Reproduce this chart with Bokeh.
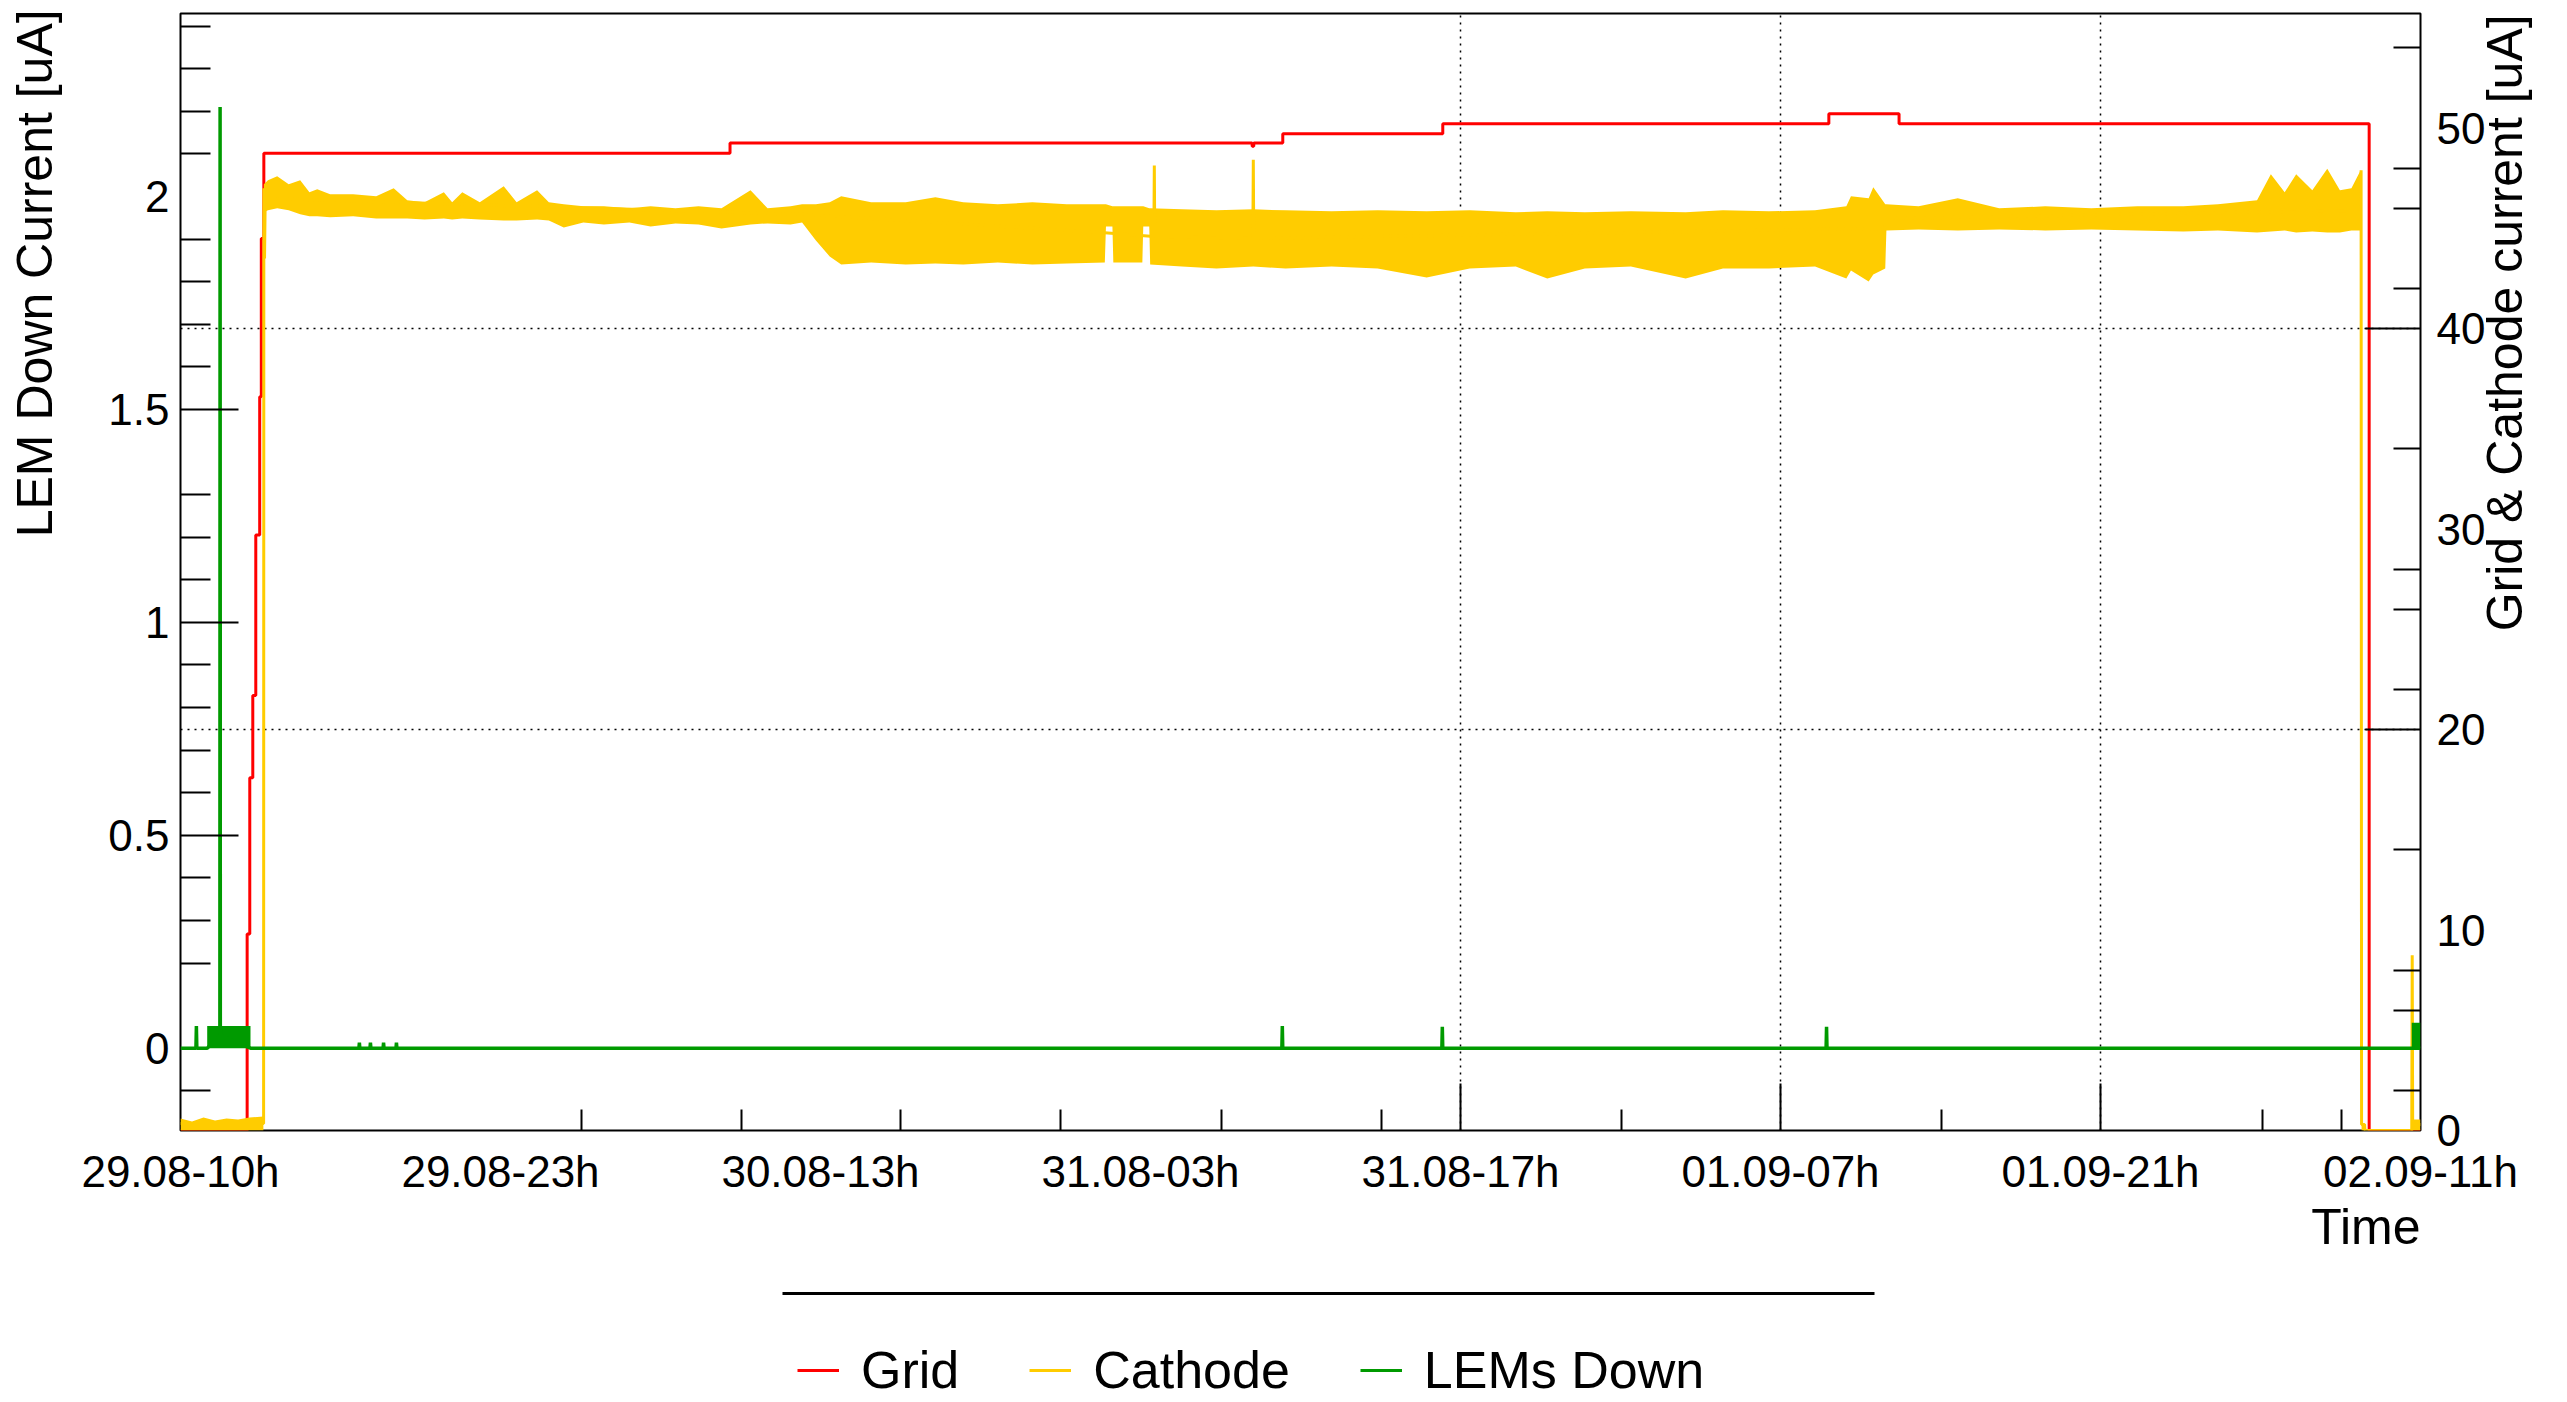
import math
from bokeh.plotting import figure
from bokeh.layouts import column
from bokeh.models import (LinearAxis, Range1d, FixedTicker, CustomJSTickFormatter,
                          NumeralTickFormatter, Legend, LegendItem, Title, Grid)
from bokeh.embed import file_html
from bokeh.resources import INLINE

FONT = "Liberation Sans"
NB = "\u00a0"

# ---------------- axes definitions (hours since 29.08 00:00) ----------------
x_tick_hours = [10.0, 23.9, 37.8, 51.7, 65.6, 79.5, 93.4, 107.3]
x_tick_labels = ["29.08-10h", "29.08-23h", "30.08-13h", "31.08-03h",
                 "31.08-17h", "01.09-07h", "01.09-21h", "02.09-11h"]
x_long_ticks = [65.6, 79.5, 93.4]
x_short_ticks = [27.40, 34.35, 41.29, 48.24, 55.22, 62.18, 72.59, 86.49, 100.42, 103.88]

left_labels = [0, 0.5, 1, 1.5, 2]
left_long_ticks = [0.5, 1.0, 1.5]
left_short_ticks = [-0.1, 0.2, 0.3, 0.4, 0.6, 0.7, 0.8, 0.9, 1.1, 1.2, 1.3,
                    1.6, 1.7, 1.8, 1.9, 2.1, 2.2, 2.3, 2.4]

right_labels = [0, 10, 20, 30, 40, 50]
right_long_ticks = [20, 40]
right_short_ticks = [2, 6, 8, 14, 22, 26, 28, 34, 42, 46, 48, 54]

grid_x_lines = [65.6, 79.5, 93.4]
grid_y_lines = [20, 40]

# ---------------- Grid current (right axis) ----------------
grid_t = [10.0, 12.895, 13.009, 13.14, 13.27, 13.44, 13.51, 13.62, 33.87,
          56.55, 56.62, 57.88, 64.83, 81.6, 84.65, 105.07, 107.3]
grid_v = [0.0, 9.8, 17.6, 21.7, 29.7, 36.6, 44.5, 48.75, 49.26,
          49.1, 49.26, 49.72, 50.22, 50.72, 50.22, 0.0, 0.0]

# ---------------- Cathode current (right axis) ----------------
# noisy band: lower / upper envelope
cath_band_t = [10.0, 10.5, 11.0, 11.5, 12.0, 12.5, 13.0, 13.6,
               13.62, 13.8, 14.2, 14.7, 15.2, 15.6, 15.94, 16.5, 17.5, 18.5, 19.26, 19.85,
               20.6, 21.44, 21.8, 22.24, 23.0, 24.04, 24.6, 25.49, 26.0, 26.65, 27.5, 28.39,
               29.5, 30.42, 31.5, 32.5, 33.5, 34.76, 35.5, 36.5, 37.0, 37.6, 38.2, 38.7,
               40.0, 41.5, 42.79, 44.0, 45.5, 47.0, 48.5, 50.15, 50.2, 50.48, 50.52, 51.78,
               51.82, 52.08, 52.12, 53.5, 55.0, 56.6, 58.0, 60.0, 62.0, 64.13, 66.0, 68.0,
               69.37, 71.0, 73.0, 75.38, 77.0, 79.0, 81.0, 82.36, 82.56, 83.33, 83.53, 84.05,
               84.1, 85.5, 87.2, 89.0, 91.0, 93.0, 95.0, 97.0, 98.5, 100.2, 100.8, 101.4,
               101.9, 102.6, 103.25, 103.8, 104.3, 104.7,
               104.74, 104.88, 104.9, 106.88, 106.9, 107.3]
cath_band_lo = [0, 0, 0, 0, 0, 0, 0, 0,
                45.8, 45.9, 46.0, 45.9, 45.7, 45.6, 45.6, 45.55, 45.6, 45.5, 45.5, 45.5,
                45.45, 45.5, 45.45, 45.5, 45.45, 45.4, 45.4, 45.45, 45.4, 45.05, 45.3, 45.2,
                45.3, 45.1, 45.25, 45.2, 45.0, 45.2, 45.25, 45.2, 45.3, 44.4, 43.6, 43.2,
                43.3, 43.2, 43.25, 43.2, 43.3, 43.2, 43.25, 43.3, 45.1, 45.1, 43.3, 43.3,
                45.1, 45.1, 43.2, 43.1, 43.0, 43.1, 43.0, 43.1, 43.0, 42.55, 43.0, 43.1,
                42.5, 43.0, 43.1, 42.5, 43.0, 43.0, 43.1, 42.5, 42.9, 42.35, 42.7, 43.0,
                44.9, 44.95, 44.9, 44.95, 44.9, 44.95, 44.9, 44.85, 44.9, 44.8, 44.85, 44.9,
                44.8, 44.85, 44.8, 44.8, 44.9, 44.9,
                0, 0, 0, 0, 0, 0]
cath_band_hi = [0.6, 0.45, 0.65, 0.5, 0.6, 0.55, 0.65, 0.7,
                47.2, 47.4, 47.6, 47.2, 47.4, 46.8, 46.95, 46.7, 46.7, 46.6, 47.0, 46.4,
                46.3, 46.8, 46.3, 46.8, 46.3, 47.1, 46.3, 46.9, 46.3, 46.2, 46.1, 46.1,
                46.0, 46.1, 46.0, 46.1, 46.0, 46.9, 46.0, 46.1, 46.2, 46.2, 46.3, 46.6,
                46.3, 46.3, 46.55, 46.3, 46.2, 46.3, 46.2, 46.2, 46.2, 46.1, 46.1, 46.1,
                46.1, 46.0, 46.0, 45.95, 45.9, 45.95, 45.9, 45.85, 45.9, 45.85, 45.9, 45.8,
                45.85, 45.8, 45.85, 45.8, 45.9, 45.85, 45.9, 46.1, 46.6, 46.5, 47.05, 46.2,
                46.2, 46.1, 46.5, 46.0, 46.1, 46.0, 46.1, 46.1, 46.2, 46.4, 47.7, 46.8,
                47.7, 46.9, 47.97, 46.9, 47.0, 47.9,
                0.3, 0.3, 0.0, 0.0, 0.55, 0.55]
# trace of the signal through the band (jumps and spikes)
cath_line_t = [10.0, 13.61, 13.62, 13.65, 13.68, 37.0, 50.0, 52.28, 52.30, 52.32,
               56.58, 56.60, 56.62, 84.0, 84.2, 104.70, 104.72, 104.74, 104.87, 104.89,
               106.92, 106.94, 106.96, 107.3]
cath_line_v = [0.35, 0.35, 47.0, 43.5, 46.5, 45.7, 44.8, 44.6, 48.14, 44.6,
               44.5, 48.43, 44.5, 45.0, 45.5, 45.9, 47.9, 0.3, 0.3, 0.0,
               0.0, 8.74, 0.3, 0.3]

# ---------------- LEMs Down current (left axis) ----------------
lem_t = [10.0, 10.67, 10.69, 10.71, 11.16, 11.71, 11.72, 11.73, 13.04,
         17.75, 17.77, 17.79, 18.23, 18.25, 18.27, 18.80, 18.82, 18.84, 19.36, 19.38, 19.40,
         57.84, 57.86, 57.88, 64.79, 64.81, 64.83, 81.48, 81.50, 81.52, 107.3]
lem_v = [0.0, 0.0, 0.052, 0.0, 0.0, 0.03, 2.21, 0.03, 0.0,
         0.0, 0.013, 0.0, 0.0, 0.013, 0.0, 0.0, 0.013, 0.0, 0.0, 0.013, 0.0,
         0.0, 0.052, 0.0, 0.0, 0.05, 0.0, 0.0, 0.05, 0.0, 0.0]
lem_block1_t = [11.16, 13.04]
lem_block1_v = [0.052, 0.052]
lem_block2_t = [106.92, 107.3]
lem_block2_v = [0.06, 0.06]

series_names = ["Grid", "Cathode", "LEMs Down"]
RED = "#ff0000"
YEL = "#ffcc00"
GRN = "#009a00"

X_RANGE = (10.0, 107.3)
W = 2567
BL, BR = 180, 147

p = figure(width=W, height=1288, output_backend="svg", toolbar_location=None,
           x_range=Range1d(*X_RANGE), y_range=Range1d(-0.1933, 2.4298),
           x_axis_type=None, y_axis_type=None,
           min_border_left=BL, min_border_right=BR, min_border_top=13, min_border_bottom=158,
           background_fill_color="white", border_fill_color="white")
p.extra_y_ranges = {"right": Range1d(0, 55.72)}
p.outline_line_color = "black"
p.outline_line_width = 2

blank = CustomJSTickFormatter(code="return '';")


def tick_axis(tks, minor, long_len, short_len, **kw):
    return LinearAxis(ticker=FixedTicker(ticks=tks, minor_ticks=minor), formatter=blank,
                      axis_line_color=None, major_tick_in=long_len, major_tick_out=0,
                      minor_tick_in=short_len, minor_tick_out=0,
                      major_tick_line_width=2, minor_tick_line_width=2,
                      major_tick_line_color="black", minor_tick_line_color="black",
                      major_label_text_font_size="0px", major_label_standoff=0, **kw)


def label_axis(tks, formatter, standoff, size, **kw):
    return LinearAxis(ticker=FixedTicker(ticks=tks, minor_ticks=[]), formatter=formatter,
                      axis_line_color=None, major_tick_line_color=None, minor_tick_line_color=None,
                      major_tick_in=0, major_tick_out=0, minor_tick_in=0, minor_tick_out=0,
                      major_label_standoff=standoff, major_label_text_font=FONT,
                      major_label_text_font_size=size, major_label_text_color="black",
                      axis_label_text_font=FONT, axis_label_text_font_size="50px",
                      axis_label_text_font_style="normal", axis_label_text_color="black", **kw)


# grids
p.add_layout(Grid(dimension=0, ticker=FixedTicker(ticks=grid_x_lines), grid_line_color="black",
                  grid_line_width=1.5, grid_line_dash="2 5"), "center")
p.add_layout(Grid(dimension=1, ticker=FixedTicker(ticks=grid_y_lines), y_range_name="right",
                  grid_line_color="black", grid_line_width=1.5, grid_line_dash="2 5"), "center")

# data
p.step(grid_t, grid_v, mode="after", line_color=RED, line_width=3, y_range_name="right")
p.varea(x=cath_band_t, y1=cath_band_lo, y2=cath_band_hi, fill_color=YEL, y_range_name="right")
p.line(cath_line_t, cath_line_v, line_color=YEL, line_width=3, y_range_name="right")
p.varea(x=lem_block1_t, y1=[0, 0], y2=lem_block1_v, fill_color=GRN)
p.varea(x=lem_block2_t, y1=[0, 0], y2=lem_block2_v, fill_color=GRN)
p.line(lem_t, lem_v, line_color=GRN, line_width=3.5)

# ---- bottom side ----
x_fmt = CustomJSTickFormatter(args=dict(tick_pos=x_tick_hours, tick_txt=x_tick_labels), code="""
let best = 0, bd = Infinity;
for (let i = 0; i < tick_pos.length; i++) {
  const d = Math.abs(tick_pos[i] - tick);
  if (d < bd) { bd = d; best = i; }
}
return tick_txt[best];
""")
p.add_layout(tick_axis(x_long_ticks, x_short_ticks, 47, 21), "below")
p.add_layout(label_axis(x_tick_hours, x_fmt, 16, "44px"), "below")
p.add_layout(Title(text="Time", align="right", vertical_align="top", standoff=0,
                   text_font=FONT, text_font_size="50px", text_font_style="normal",
                   text_color="black"), "below")

# ---- left side ----
p.add_layout(tick_axis(left_long_ticks, left_short_ticks, 58, 30), "left")
yl = label_axis(left_labels, NumeralTickFormatter(format="0.[0]"), 11, "44px")
yl.axis_label = NB * 43 + "LEM Down Current [uA]"
yl.axis_label_standoff = 42
p.add_layout(yl, "left")

# ---- right side ----
p.add_layout(tick_axis(right_long_ticks, right_short_ticks, 55, 27, y_range_name="right"), "right")
p.add_layout(label_axis(right_labels, NumeralTickFormatter(format="0"), 16, "44px",
                        y_range_name="right"), "right")
right_title = "Grid & Cathode current [uA]"
right_title_start = 24.9   # right-axis value where the rotated title starts (bottom end)
yt = LinearAxis(y_range_name="right", ticker=FixedTicker(ticks=[right_title_start], minor_ticks=[]),
                formatter=CustomJSTickFormatter(args=dict(txt=right_title), code="return txt;"),
                axis_line_color=None, major_tick_line_color=None, minor_tick_line_color=None,
                major_tick_in=0, major_tick_out=0, minor_tick_in=0, minor_tick_out=0,
                major_label_orientation=math.pi / 2, major_label_standoff=17,
                major_label_text_font=FONT, major_label_text_font_size="50px",
                major_label_text_color="black")
p.add_layout(yt, "right")

# ---- legend strip below the plot (same horizontal frame as the plot) ----
q = figure(width=W, height=112, output_backend="svg", toolbar_location=None,
           x_range=Range1d(*X_RANGE), y_range=Range1d(1000, 1001),
           x_axis_type=None, y_axis_type=None,
           min_border_left=BL, min_border_right=BR, min_border_top=5, min_border_bottom=0,
           background_fill_color="white", border_fill_color="white", outline_line_color=None)
q.add_layout(LinearAxis(ticker=FixedTicker(ticks=[], minor_ticks=[]), formatter=blank,
                        bounds=(36.15, 83.6), axis_line_color="black", axis_line_width=3,
                        major_tick_line_color=None, minor_tick_line_color=None,
                        major_tick_in=0, major_tick_out=0, minor_tick_in=0, minor_tick_out=0,
                        major_label_text_font_size="0px", major_label_standoff=0), "above")
# legend keys: the same series, drawn outside this strip's visible range
k_grid = q.step(grid_t, grid_v, mode="after", line_color=RED, line_width=3)
k_cath = q.line(cath_line_t, cath_line_v, line_color=YEL, line_width=3)
k_lem = q.line(lem_t, lem_v, line_color=GRN, line_width=3)
legend = Legend(items=[LegendItem(label=series_names[0], renderers=[k_grid]),
                       LegendItem(label=series_names[1], renderers=[k_cath]),
                       LegendItem(label=series_names[2], renderers=[k_lem])],
                orientation="horizontal", location=(617, 0), padding=0, margin=0,
                spacing=70, glyph_width=42, glyph_height=20, label_standoff=22,
                label_text_font=FONT, label_text_font_size="52px", label_text_color="black",
                border_line_color=None, background_fill_alpha=0)
q.add_layout(legend, "center")

open("out.html", "w").write(file_html(column(p, q, spacing=0), INLINE))
